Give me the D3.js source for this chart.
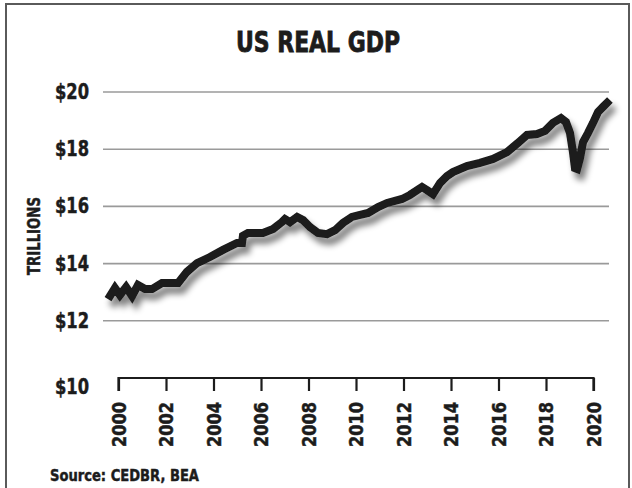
<!DOCTYPE html>
<html>
<head>
<meta charset="utf-8">
<script src="https://cdn.jsdelivr.net/npm/d3@7"></script>
<style>
  html, body { margin: 0; padding: 0; background: #fff; }
  svg { display: block; }
  .cond { font-family: "DejaVu Sans Condensed", "DejaVu Sans", sans-serif; font-weight: bold; font-stretch: condensed; fill: #1c1c1c; stroke: #1c1c1c; stroke-width: 0.45px; }
</style>
</head>
<body>
<svg id="chart" width="632" height="488"></svg>
<script>
// Real GDP, trillions of dollars, positioned on the chart's year axis
const years = [1999.56, 1999.85, 2000.06, 2000.32, 2000.57, 2000.82, 2001.12, 2001.41, 2001.83, 2002.17,
  2002.51, 2002.88, 2003.31, 2003.85, 2004.40, 2004.99, 2005.20, 2005.24, 2005.45, 2006.08,
  2006.51, 2006.88, 2007.01, 2007.22, 2007.52, 2007.77, 2008.06, 2008.40, 2008.78, 2009.12,
  2009.45, 2009.83, 2010.17, 2010.51, 2010.93, 2011.31, 2011.94, 2012.27, 2012.78, 2012.99,
  2013.24, 2013.54, 2013.83, 2014.08, 2014.67, 2015.22, 2015.77, 2016.36, 2016.82, 2017.20,
  2017.62, 2017.96, 2018.29, 2018.63, 2018.84, 2019.01, 2019.14, 2019.22, 2019.31, 2019.43,
  2019.56, 2019.77, 2019.98, 2020.19, 2020.40, 2020.69];
const gdp = [12.76, 13.15, 12.90, 13.18, 12.87, 13.25, 13.11, 13.11, 13.32, 13.32,
  13.32, 13.71, 14.02, 14.23, 14.48, 14.72, 14.72, 14.97, 15.07, 15.07,
  15.21, 15.45, 15.56, 15.45, 15.63, 15.52, 15.28, 15.07, 15.03, 15.17,
  15.42, 15.63, 15.70, 15.77, 15.98, 16.12, 16.26, 16.40, 16.68, 16.57,
  16.43, 16.82, 17.06, 17.20, 17.41, 17.52, 17.66, 17.90, 18.22, 18.50,
  18.53, 18.64, 18.92, 19.09, 18.95, 18.57, 17.87, 17.34, 17.31, 17.69,
  18.25, 18.57, 18.92, 19.30, 19.48, 19.72];

const yTicks = [10, 12, 14, 16, 18, 20];
const yTickLabels = ["$10", "$12", "$14", "$16", "$18", "$20"];
const xTicks = [2000, 2002, 2004, 2006, 2008, 2010, 2012, 2014, 2016, 2018, 2020];
const xTickLabels = ["2000", "2002", "2004", "2006", "2008", "2010", "2012", "2014", "2016", "2018", "2020"];

const title = "US REAL GDP";
const yAxisTitle = "TRILLIONS";
const sourceNote = "Source: CEDBR, BEA";

const svg = d3.select("#chart");

// frame
svg.append("rect")
  .attr("x", 6).attr("y", 4).attr("width", 623).attr("height", 520)
  .attr("fill", "#fff").attr("stroke", "#5a5a5a").attr("stroke-width", 2);

const x = d3.scaleLinear().domain([2000, 2020]).range([118.5, 593.5]);
const y = d3.scaleLinear().domain([10, 20]).range([378, 92]);

// soft shadow under the line
const defs = svg.append("defs");
const f = defs.append("filter").attr("id", "shadow")
  .attr("x", "-10%").attr("y", "-10%").attr("width", "130%").attr("height", "140%");
f.append("feGaussianBlur").attr("in", "SourceAlpha").attr("stdDeviation", 3.4).attr("result", "b");
f.append("feOffset").attr("in", "b").attr("dx", 4).attr("dy", 7).attr("result", "o");
f.append("feComponentTransfer").attr("in", "o").attr("result", "s")
  .append("feFuncA").attr("type", "linear").attr("slope", 0.5);
const fm = f.append("feMerge");
fm.append("feMergeNode").attr("in", "s");
fm.append("feMergeNode").attr("in", "SourceGraphic");

// title
svg.append("text").attr("class", "cond")
  .attr("x", 318).attr("y", 52).attr("text-anchor", "middle")
  .attr("font-size", 29).style("stroke-width", "0.8px")
  .attr("textLength", 164).attr("lengthAdjust", "spacingAndGlyphs")
  .text(title);

// horizontal grid lines
svg.append("g")
  .selectAll("line")
  .data(yTicks.filter(v => v > 10))
  .join("line")
  .attr("x1", 103).attr("x2", 609)
  .attr("y1", d => y(d)).attr("y2", d => y(d))
  .attr("stroke", "#9a9a9a").attr("stroke-width", 1.6);

// y tick labels
svg.append("g")
  .selectAll("text")
  .data(yTicks)
  .join("text")
  .attr("class", "cond")
  .attr("x", 89)
  .attr("y", d => y(d) + (d === 10 ? 16 : 7))
  .attr("text-anchor", "end")
  .attr("font-size", 21)
  .attr("textLength", 34).attr("lengthAdjust", "spacingAndGlyphs")
  .text((d, i) => yTickLabels[i]);

// y axis title
svg.append("text").attr("class", "cond")
  .attr("transform", "translate(40,236) rotate(-90)")
  .attr("text-anchor", "middle")
  .attr("font-size", 17).attr("textLength", 78).attr("lengthAdjust", "spacingAndGlyphs")
  .text(yAxisTitle);

// x axis
const xAxis = d3.axisBottom(x)
  .tickValues(xTicks)
  .tickSize(13)
  .tickSizeOuter(0)
  .tickFormat((d, i) => xTickLabels[i]);
const gx = svg.append("g").attr("transform", `translate(0,${y(10)})`).call(xAxis);
gx.select(".domain").attr("stroke", "#1c1c1c").attr("stroke-width", 2.2)
  .attr("d", `M${x(2000)},13V0H${x(2020)}V13`);
gx.selectAll(".tick line").attr("stroke", "#1c1c1c").attr("stroke-width", 2.2);
gx.selectAll(".tick text")
  .attr("class", "cond")
  .attr("font-size", 19)
  .attr("transform", "rotate(-90)")
  .attr("x", -24).attr("y", 0).attr("dy", "0.36em")
  .attr("text-anchor", "end")
  .attr("textLength", 45).attr("lengthAdjust", "spacingAndGlyphs");

// GDP line
const line = d3.line()
  .x((d, i) => x(years[i]))
  .y(d => y(d));
svg.append("path")
  .datum(gdp)
  .attr("d", line)
  .attr("fill", "none")
  .attr("stroke", "#1a1a1a")
  .attr("stroke-width", 8)
  .attr("stroke-linejoin", "miter")
  .attr("stroke-miterlimit", 3)
  .attr("filter", "url(#shadow)");

// source note
svg.append("text").attr("class", "cond")
  .attr("x", 50).attr("y", 481)
  .attr("font-size", 16).attr("textLength", 149).attr("lengthAdjust", "spacingAndGlyphs")
  .text(sourceNote);
</script>
</body>
</html>
